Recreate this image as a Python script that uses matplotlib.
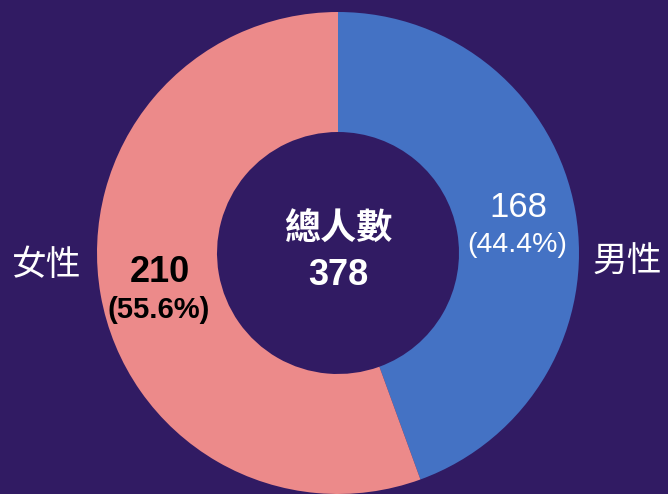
import matplotlib
matplotlib.use("Agg")
import matplotlib.pyplot as plt

# data
labels = ["男性", "女性"]
counts = [168, 210]
colors = ["#4472C4", "#EC8A8A"]
total = sum(counts)
shares = [c / total * 100 for c in counts]

BG = "#311B63"
W, H = 668, 494

fig = plt.figure(figsize=(W / 100, H / 100), dpi=100, facecolor=BG)
ax = fig.add_axes([0, 0, 1, 1])
ax.set_facecolor(BG)

cx, cy, r = 338, H - 253, 241
ax.pie(counts, colors=colors, startangle=90, counterclock=False,
       center=(cx, cy), radius=r, frame=True,
       wedgeprops=dict(width=r - 121, linewidth=0))
ax.set_xlim(0, W)
ax.set_ylim(0, H)
ax.set_aspect("equal")
ax.axis("off")

num = ["Liberation Sans", "DejaVu Sans"]
cjk = ["Noto Sans CJK TC", "DejaVu Sans"]

# male (blue) labels
ax.text(518, H - 217, f"{counts[0]}", color="white", fontsize=25,
        family=num, ha="center", va="baseline")
ax.text(517, H - 252, f"({shares[0]:.1f}%)", color="white", fontsize=20.5,
        family=num, ha="center", va="baseline")
ax.text(627, H - 262, labels[0], color="white", fontsize=25,
        family=cjk, ha="center", va="center")

# female (pink) labels
ax.text(160, H - 282, f"{counts[1]}", color="black", fontsize=26,
        family=num, fontweight="bold", ha="center", va="baseline")
ax.text(159, H - 318, f"({shares[1]:.1f}%)", color="black", fontsize=21,
        family=num, fontweight="bold", ha="center", va="baseline")
ax.text(47, H - 265, labels[1], color="white", fontsize=25,
        family=cjk, ha="center", va="center")

# centre
ax.text(338, H - 229, "總人數", color="white", fontsize=26,
        family=cjk, fontweight="bold", ha="center", va="center")
ax.text(338, H - 285, f"{total}", color="white", fontsize=26,
        family=num, fontweight="bold", ha="center", va="baseline")

fig.savefig("out.png", dpi=100, facecolor=BG)
